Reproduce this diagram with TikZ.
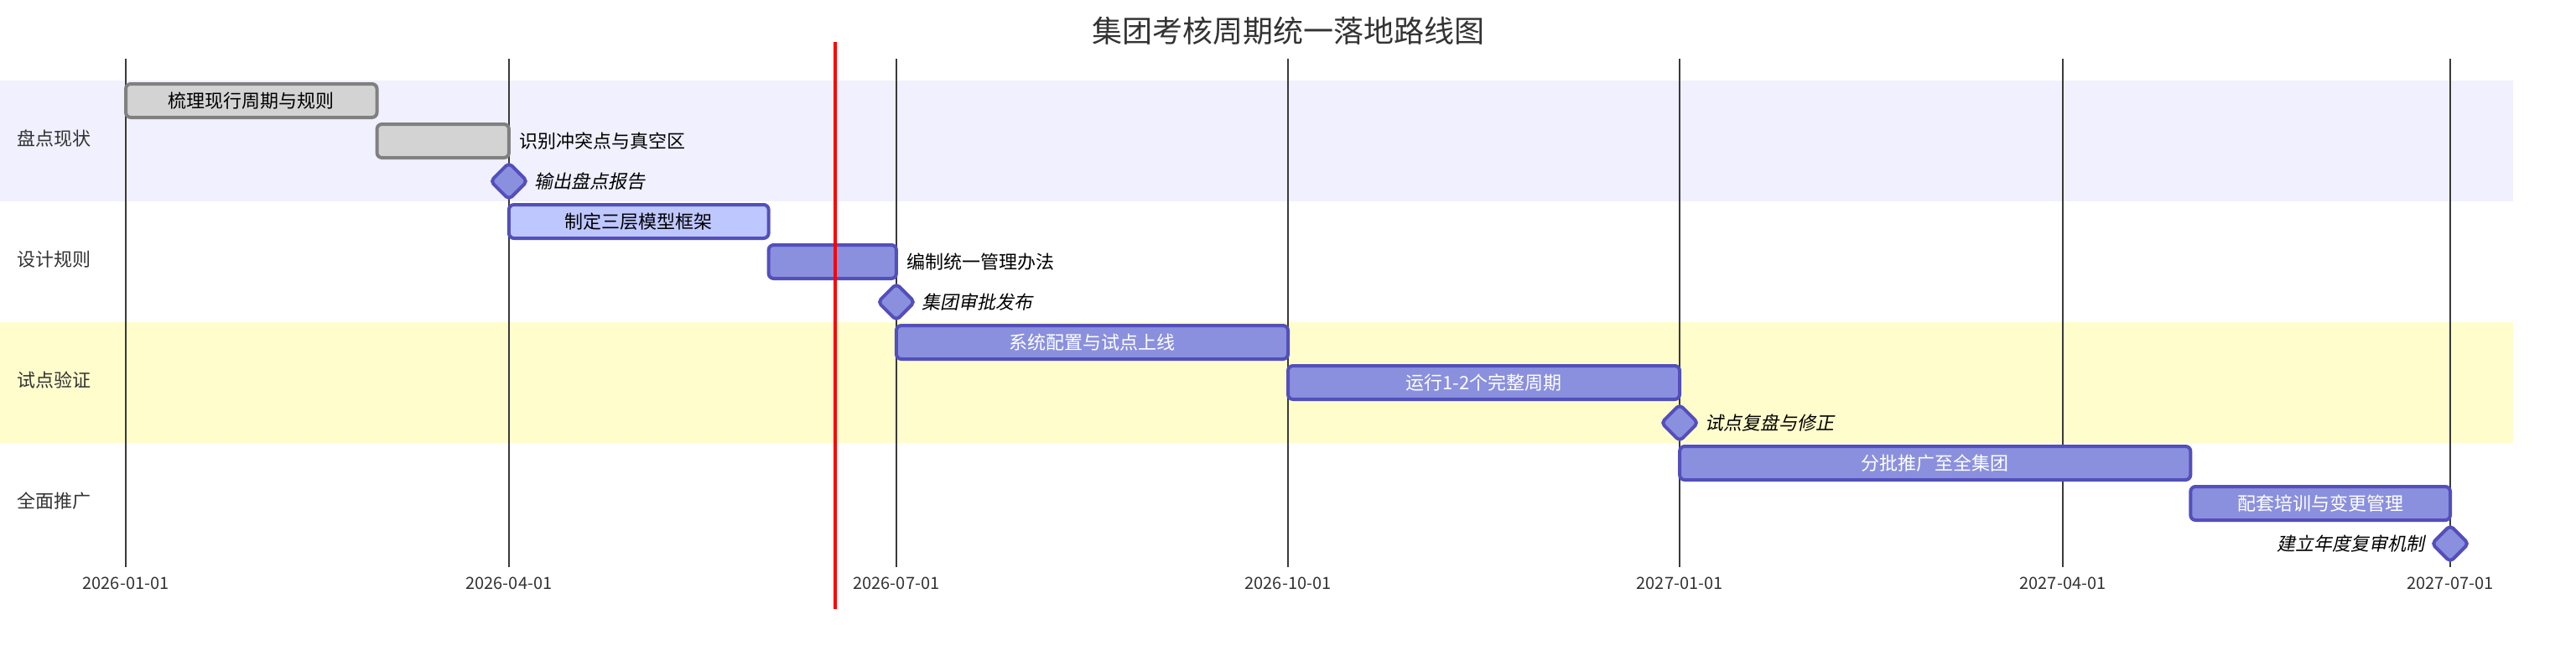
\documentclass[tikz,border=0pt]{standalone}
\usepackage{fontspec}
\setmainfont{Noto Sans CJK SC}
\newfontfamily\msfont[FakeSlant=0.2]{Noto Sans CJK SC}
\usetikzlibrary{shapes.geometric}
\definecolor{secA}{HTML}{F0F0FF}
\definecolor{secC}{HTML}{FFFDCC}
\definecolor{donefill}{HTML}{D3D3D3}
\definecolor{donestroke}{HTML}{808080}
\definecolor{actfill}{HTML}{BFC7FF}
\definecolor{taskstroke}{HTML}{534FBC}
\definecolor{taskfill}{HTML}{8A90DD}
\definecolor{txtgrey}{HTML}{333333}
\definecolor{gridc}{HTML}{3A3A3A}
\tikzset{
  basebar/.style={rectangle, rounded corners=3pt, minimum height=20pt, inner sep=0pt, line width=2pt, font=\fontsize{11}{13}\selectfont},
  donebar/.style={basebar, draw=donestroke, fill=donefill, text=black},
  actbar/.style={basebar, draw=taskstroke, fill=actfill, text=black},
  normbar/.style={basebar, draw=taskstroke, fill=taskfill, text=white},
  mstone/.style={diamond, aspect=1, minimum width=22.6pt, minimum height=22.6pt, inner sep=0pt, rounded corners=2.4pt, draw=taskstroke, fill=taskfill, line width=2pt},
  outlbl/.style={inner sep=0pt, text=black, font=\fontsize{11}{13}\selectfont},
  mslbl/.style={inner sep=0pt, text=black, font=\fontsize{11}{13}\msfont},
  seclbl/.style={inner sep=0pt, anchor=west, text=txtgrey, font=\fontsize{11}{13}\selectfont},
  ticklbl/.style={inner sep=0pt, anchor=base, text=txtgrey, font=\fontsize{10}{12}\selectfont},
  gridline/.style={draw=gridc, line width=1pt},
}
\begin{document}
\begin{tikzpicture}[x=1pt,y=-1pt]
\useasboundingbox[fill=white] (0,0) rectangle (1536,388);
% section bands
\fill[secA] (0,48) rectangle (1498.5,120);
\fill[secC] (0,192) rectangle (1498.5,264);
% title
\node[inner sep=0pt, text=txtgrey, font=\fontsize{18}{22}\selectfont] (title) at (768,18.3) {集团考核周期统一落地路线图};
% grid lines and tick labels
\foreach \gx/\glab [count=\k] in {75/2026-01-01, 303.46/2026-04-01, 534.46/2026-07-01, 768/2026-10-01, 1001.54/2027-01-01, 1230/2027-04-01, 1461/2027-07-01}{
  \coordinate (gt\k) at (\gx,35);
  \coordinate (gb\k) at (\gx,338);
  \draw[gridline] (gt\k) -- (gb\k);
  \node[ticklbl] (tick\k) at (\gx,351.3) {\glab};
}
% section labels
\node[seclbl] (s1) at (10,82.5) {盘点现状};
\node[seclbl] (s2) at (10,154.5) {设计规则};
\node[seclbl] (s3) at (10,226.5) {试点验证};
\node[seclbl] (s4) at (10,298.5) {全面推广};
% tasks
\node[donebar, minimum width=149.77pt] (t1) at (149.885,60) {梳理现行周期与规则};
\node[donebar, minimum width=78.69pt] (t2) at (264.115,84) {};
\node[outlbl, anchor=west] (t2l) at ([xshift=5pt]t2.east) {识别冲突点与真空区};
\node[mstone] (m1) at (303.46,108) {};
\node[mslbl, anchor=west] (m1l) at ([xshift=15pt]m1.center) {输出盘点报告};
\node[actbar, minimum width=154.85pt] (t3) at (380.885,132) {制定三层模型框架};
\node[normbar, minimum width=76.15pt] (t4) at (496.385,156) {};
\node[outlbl, anchor=west] (t4l) at ([xshift=5pt]t4.east) {编制统一管理办法};
\node[mstone] (m2) at (534.46,180) {};
\node[mslbl, anchor=west] (m2l) at ([xshift=15pt]m2.center) {集团审批发布};
\node[normbar, minimum width=233.54pt] (t5) at (651.23,204) {系统配置与试点上线};
\node[normbar, minimum width=233.54pt] (t6) at (884.77,228) {运行1-2个完整周期};
\node[mstone] (m3) at (1001.54,252) {};
\node[mslbl, anchor=west] (m3l) at ([xshift=15pt]m3.center) {试点复盘与修正};
\node[normbar, minimum width=304.61pt] (t7) at (1153.845,276) {分批推广至全集团};
\node[normbar, minimum width=154.85pt] (t8) at (1383.575,300) {配套培训与变更管理};
\node[mstone] (m4) at (1461,324) {};
\node[mslbl, anchor=east] (m4l) at ([xshift=-15pt]m4.center) {建立年度复审机制};
% today line
\coordinate (todayT) at (498,25);
\coordinate (todayB) at (498,363);
\draw[red, line width=2pt] (todayT) -- (todayB);
\end{tikzpicture}
\end{document}
